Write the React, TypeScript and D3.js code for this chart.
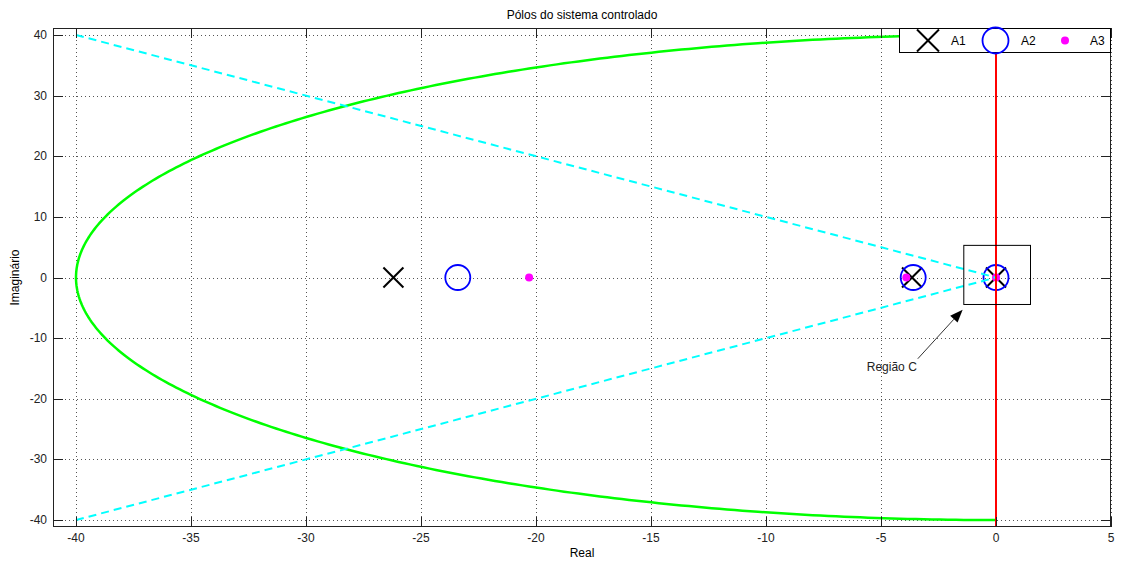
import React from "react";
import * as d3 from "d3";

// ---- data ----
const xTicks = [-40, -35, -30, -25, -20, -15, -10, -5, 0, 5];
const yTicks = [-40, -30, -20, -10, 0, 10, 20, 30, 40];
const xDomain = [-41, 5];
const yDomain = [-41.15, 41.15];

// poles (real parts, imaginary 0)
const A1_re = [-26.2, -3.65, 0];
const A2_re = [-23.4, -3.6, 0];
const A3_re = [-20.3, -3.9, 0];

// constant natural frequency contour (radius) and damping lines
const wnRadius = 40;
const dampLineUpper = [[-40, 40], [0, 0]];
const dampLineLower = [[-40, -40], [0, 0]];
const stabilityLine = [[0, -45], [0, 45]];

// annotation "Região C" region box and arrow (data coords)
const regionBox = { x0: -1.4, x1: 1.5, y0: -4.45, y1: 5.3 };
const arrowHead = [-1.45, -5.3];
const arrowTail = [-3.4, -13.4];
const regionLabel = "Região C";

const W = 1128, H = 564;
const L = 53, R = 1111, T = 28, B = 527;
const FONT = "'Liberation Sans', Arial, Helvetica, sans-serif";

export default function App() {
  const x = d3.scaleLinear().domain(xDomain).range([L, R]);
  const y = d3.scaleLinear().domain(yDomain).range([B, T]);
  const line = d3.line<number[]>().x(d => x(d[0])).y(d => y(d[1]));

  const angles = d3.range(90, 270.01, 0.5).map(a => (a * Math.PI) / 180);
  const circlePts = angles.map(a => [wnRadius * Math.cos(a), wnRadius * Math.sin(a)]);

  const tick = 10;
  const X = (cx: number, cy: number, s: number, key: string) => (
    <g key={key} stroke="#000" strokeWidth={2}>
      <line x1={cx - s} y1={cy - s} x2={cx + s} y2={cy + s} />
      <line x1={cx - s} y1={cy + s} x2={cx + s} y2={cy - s} />
    </g>
  );

  const ah = [x(arrowHead[0]), y(arrowHead[1])];
  const at = [x(arrowTail[0]), y(arrowTail[1])];
  const ang = Math.atan2(ah[1] - at[1], ah[0] - at[0]);
  const aL = 13, aW = 5;
  const bx = ah[0] - aL * Math.cos(ang), by = ah[1] - aL * Math.sin(ang);
  const px = -Math.sin(ang) * aW, py = Math.cos(ang) * aW;

  return (
    <svg width={W} height={H} style={{ position: "fixed", left: 0, top: 0, background: "#fff" }} fontFamily={FONT}>
      <defs>
        <clipPath id="plot"><rect x={L} y={T} width={R - L} height={B - T} /></clipPath>
      </defs>
      <rect x={0} y={0} width={W} height={H} fill="#fff" />
      {/* grid */}
      <g stroke="#555" strokeWidth={1} strokeDasharray="1,3">
        {xTicks.map(t => (
          <line key={"gx" + t} x1={Math.round(x(t)) + 0.5} x2={Math.round(x(t)) + 0.5} y1={T} y2={B} />
        ))}
        {yTicks.map(t => (
          <line key={"gy" + t} y1={Math.round(y(t)) + 0.5} y2={Math.round(y(t)) + 0.5} x1={L} x2={R} />
        ))}
      </g>
      <g clipPath="url(#plot)">
        {/* markers */}
        {A1_re.map((r, i) => X(x(r), y(0), 10, "a1" + i))}
        {A2_re.map((r, i) => (
          <circle key={"a2" + i} cx={x(r)} cy={y(0)} r={12.5} fill="none" stroke="#0000ff" strokeWidth={1.8} />
        ))}
        {A3_re.map((r, i) => (
          <circle key={"a3" + i} cx={x(r)} cy={y(0)} r={4} fill="#ff00ff" />
        ))}
        {/* lines */}
        <path d={line(circlePts) || ""} fill="none" stroke="#00ff00" strokeWidth={2.5} />
        <path d={line(dampLineUpper) || ""} fill="none" stroke="#00ffff" strokeWidth={2} strokeDasharray="8,5" />
        <path d={line(dampLineLower) || ""} fill="none" stroke="#00ffff" strokeWidth={2} strokeDasharray="8,5" />
        <path d={line(stabilityLine) || ""} fill="none" stroke="#ff0000" strokeWidth={2} />
      </g>
      {/* region box */}
      <rect x={x(regionBox.x0)} y={y(regionBox.y1)} width={x(regionBox.x1) - x(regionBox.x0)}
        height={y(regionBox.y0) - y(regionBox.y1)} fill="none" stroke="#000" strokeWidth={1} />
      {/* arrow */}
      <line x1={at[0]} y1={at[1]} x2={bx} y2={by} stroke="#333" strokeWidth={1} />
      <path d={`M${ah[0]},${ah[1]} L${bx + px},${by + py} L${bx - px},${by - py} Z`} fill="#000" />
      <text x={at[0] - 1} y={at[1] + 12} fontSize={12} textAnchor="end" fill="#222">{regionLabel}</text>

      {/* axes box */}
      <rect x={L + 0.5} y={T + 0.5} width={R - L - 1} height={B - T - 1} fill="none" stroke="#222" strokeWidth={1} />
      {/* ticks */}
      <g stroke="#222" strokeWidth={1}>
        {xTicks.map(t => {
          const xx = Math.round(x(t)) + 0.5;
          return (
            <g key={"tx" + t}>
              <line x1={xx} x2={xx} y1={B} y2={B - tick} />
              <line x1={xx} x2={xx} y1={T} y2={T + tick} />
            </g>
          );
        })}
        {yTicks.map(t => {
          const yy = Math.round(y(t)) + 0.5;
          return (
            <g key={"ty" + t}>
              <line y1={yy} y2={yy} x1={L} x2={L + tick} />
              <line y1={yy} y2={yy} x1={R} x2={R - tick} />
            </g>
          );
        })}
      </g>
      <g fontSize={12} fill="#222">
        {xTicks.map(t => (
          <text key={"lx" + t} x={x(t)} y={B + 15} textAnchor="middle">{t}</text>
        ))}
        {yTicks.map(t => (
          <text key={"ly" + t} x={L - 6} y={y(t) + 4} textAnchor="end">{t}</text>
        ))}
      </g>
      <text x={(L + R) / 2} y={19} fontSize={12} textAnchor="middle" fill="#000">Pólos do sistema controlado</text>
      <text x={(L + R) / 2} y={557} fontSize={12} textAnchor="middle" fill="#000">Real</text>
      <text transform={`translate(19,${(T + B) / 2}) rotate(-90)`} fontSize={12} textAnchor="middle" fill="#000">Imaginário</text>

      {/* legend */}
      <g>
        <rect x={899.5} y={28.5} width={211} height={24} fill="#fff" stroke="#000" strokeWidth={1} />
        {X(928, 40.5, 11, "lg1")}
        <text x={951} y={45} fontSize={12} fill="#000">A1</text>
        <circle cx={995.5} cy={40.5} r={13} fill="none" stroke="#0000ff" strokeWidth={1.8} />
        <text x={1021} y={45} fontSize={12} fill="#000">A2</text>
        <circle cx={1065} cy={40.5} r={4} fill="#ff00ff" />
        <text x={1090} y={45} fontSize={12} fill="#000">A3</text>
      </g>
    </svg>
  );
}
